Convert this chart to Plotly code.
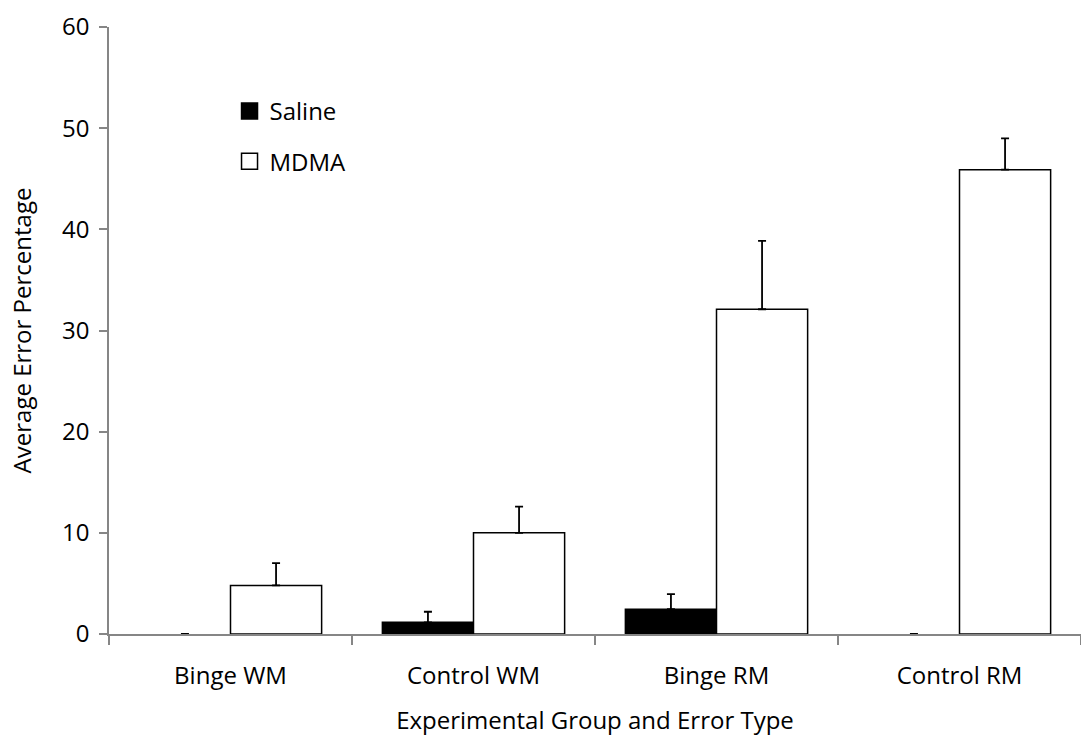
import plotly.graph_objects as go

categories = ["Binge WM", "Control WM", "Binge RM", "Control RM"]
saline = [0, 1.15, 2.45, 0]
saline_err = [0, 1.05, 1.5, 0]
mdma = [4.8, 10.0, 32.1, 45.9]
mdma_err = [2.2, 2.6, 6.75, 3.1]
y_ticks = [0, 10, 20, 30, 40, 50, 60]

FONT = "Open Sans"
FS = 24
AXIS_COLOR = "#868686"

fig = go.Figure()

fig.add_trace(go.Bar(
    x=categories, y=saline, name="Saline", legendgroup="saline", showlegend=False,
    marker=dict(color="black",
                line=dict(color="black", width=[1.5 if v > 0 else 0 for v in saline])),
    error_y=dict(type="data", symmetric=False, array=saline_err,
                 arrayminus=[0] * len(saline_err), color="black", thickness=1.8, width=4),
))
fig.add_trace(go.Bar(
    x=categories, y=mdma, name="MDMA", legendgroup="mdma", showlegend=False,
    marker=dict(color="white",
                line=dict(color="black", width=[1.5 if v > 0 else 0 for v in mdma])),
    error_y=dict(type="data", symmetric=False, array=mdma_err,
                 arrayminus=[0] * len(mdma_err), color="black", thickness=1.8, width=4),
))
# legend entries (larger square symbols), linked to the bar traces by legendgroup
fig.add_trace(go.Scatter(
    x=[None], y=[None], mode="markers", name="Saline", legendgroup="saline",
    marker=dict(symbol="square", size=16, color="black", line=dict(color="black", width=1.5)),
))
fig.add_trace(go.Scatter(
    x=[None], y=[None], mode="markers", name="MDMA", legendgroup="mdma",
    marker=dict(symbol="square", size=16, color="white", line=dict(color="black", width=1.5)),
))

fig.update_layout(
    width=1081, height=736,
    margin=dict(l=109, r=0, t=27, b=102),
    paper_bgcolor="white", plot_bgcolor="white",
    font=dict(family=FONT, size=FS, color="black"),
    barmode="group", bargap=0.25, bargroupgap=0,
    showlegend=True,
    legend=dict(x=0.124, y=0.898, xanchor="left", yanchor="top",
                bgcolor="rgba(0,0,0,0)", font=dict(family=FONT, size=FS, color="black"),
                tracegroupgap=16, itemwidth=30),
    xaxis=dict(
        type="category", range=[-0.5, 3.5],
        showline=True, linecolor=AXIS_COLOR, linewidth=1.5,
        ticks="outside", tickson="boundaries", ticklen=9, tickcolor=AXIS_COLOR, tickwidth=1.5,
        ticklabelstandoff=19,
        tickfont=dict(family=FONT, size=FS, color="black"),
        title=dict(text="Experimental Group and Error Type",
                   font=dict(family=FONT, size=FS, color="black"), standoff=27),
        showgrid=False, zeroline=False,
    ),
    yaxis=dict(
        range=[0, 60], tickvals=y_ticks, ticktext=[str(v) for v in y_ticks],
        showline=True, linecolor=AXIS_COLOR, linewidth=1.5,
        ticks="outside", ticklen=8, tickcolor=AXIS_COLOR, tickwidth=1.5,
        ticklabelstandoff=5,
        tickfont=dict(family=FONT, size=FS, color="black"),
        title=dict(text="Average Error Percentage",
                   font=dict(family=FONT, size=FS, color="black"), standoff=24),
        showgrid=False, zeroline=False,
    ),
)

fig.write_html("out.html")
